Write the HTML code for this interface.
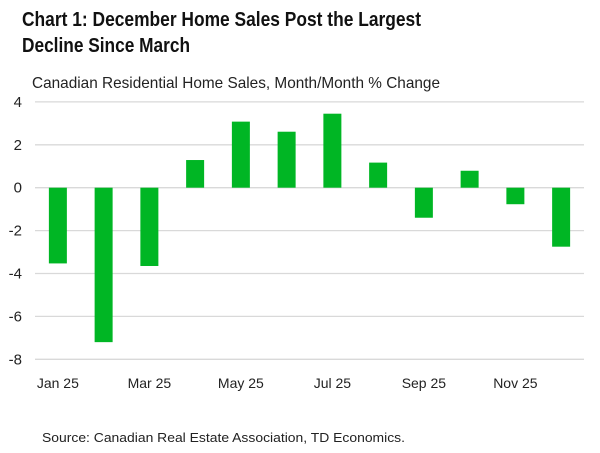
<!DOCTYPE html>
<html><head><meta charset="utf-8"><style>
body{margin:0;background:#fff;width:600px;height:448px;overflow:hidden;font-family:"Liberation Sans",sans-serif}
svg text{font-family:"Liberation Sans",sans-serif}
</style></head><body>
<svg width="600" height="448" xmlns="http://www.w3.org/2000/svg">
<text x="22" y="26" font-size="20" font-weight="bold" fill="#111" textLength="399" lengthAdjust="spacingAndGlyphs">Chart 1: December Home Sales Post the Largest</text>
<text x="22" y="52" font-size="20" font-weight="bold" fill="#111" textLength="168" lengthAdjust="spacingAndGlyphs">Decline Since March</text>
<text x="32" y="88" font-size="16" fill="#222" textLength="408" lengthAdjust="spacingAndGlyphs">Canadian Residential Home Sales, Month/Month % Change</text>
<g id="grid"></g><g id="bars"></g><g id="ylab"></g><g id="xlab"></g>
<text x="42" y="442" font-size="12.5" fill="#222" textLength="363" lengthAdjust="spacingAndGlyphs">Source: Canadian Real Estate Association, TD Economics.</text>
</svg>
<script>
const categories=["Jan 25","Feb 25","Mar 25","Apr 25","May 25","Jun 25","Jul 25","Aug 25","Sep 25","Oct 25","Nov 25","Dec 25"];
const values=[-3.53,-7.2,-3.65,1.29,3.08,2.61,3.45,1.17,-1.4,0.79,-0.77,-2.75];
const yTicks=[4,2,0,-2,-4,-6,-8];
const xLabelIdx=[0,2,4,6,8,10];
const NS="http://www.w3.org/2000/svg";
const x0=35,x1=584,band=(x1-x0)/categories.length;
const y=v=>187.7-v*21.45;
const xc=i=>x0+band*(i+0.5);
function mk(t,a){const e=document.createElementNS(NS,t);for(const k in a)e.setAttribute(k,a[k]);return e;}
const G=document.getElementById('grid'),B=document.getElementById('bars'),YL=document.getElementById('ylab'),XL=document.getElementById('xlab');
yTicks.forEach(t=>{
 const l=mk('line',{x1:x0,x2:x1,y1:y(t),y2:y(t),stroke:'#d9d9d9','stroke-width':1.3});
 
 
 G.appendChild(l);
 const tx=mk('text',{x:22,y:y(t)+5,'font-size':15,'text-anchor':'end',fill:'#222'});
 tx.textContent=t;
 
 
 YL.appendChild(tx);
});
values.forEach((v,i)=>{
 const r=mk('rect',{x:xc(i)-9,width:18,y:Math.min(y(v),y(0)),height:Math.abs(y(v)-y(0)),fill:'#00b624'});
 
 
 B.appendChild(r);
});
xLabelIdx.forEach(i=>{
 const tx=mk('text',{x:xc(i),y:388,'font-size':14,'text-anchor':'middle',fill:'#222'});
 tx.textContent=categories[i];
 
 
 XL.appendChild(tx);
});
</script>
</body></html>
